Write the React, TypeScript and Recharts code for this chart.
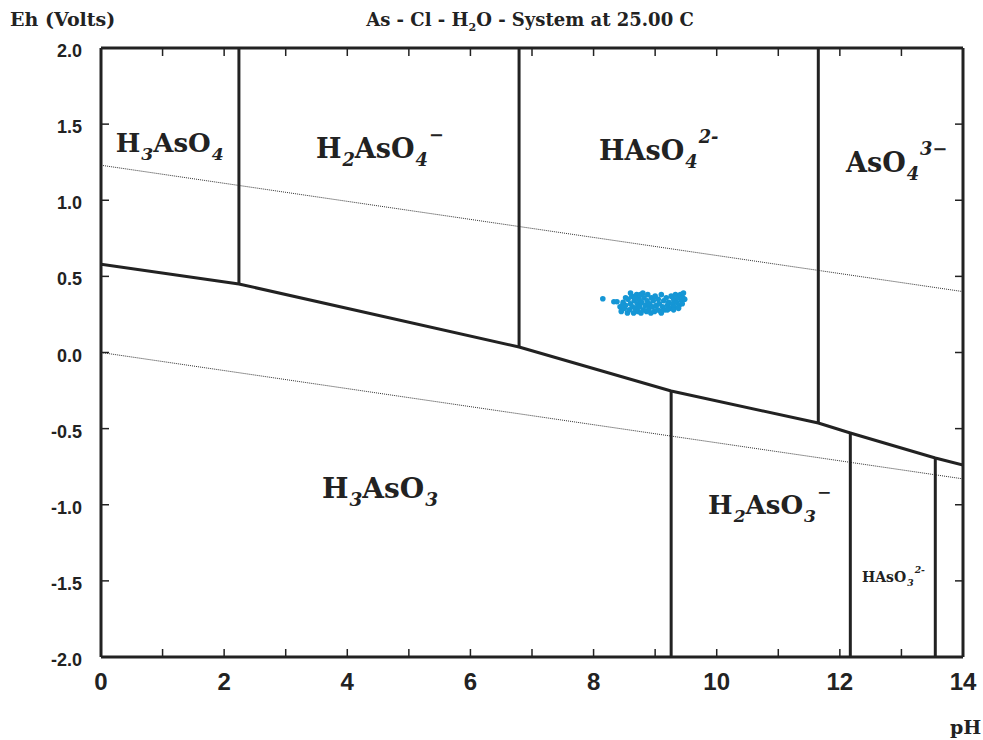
import React from 'react';
import { ComposedChart, Line, Scatter, XAxis, YAxis, ReferenceDot } from 'recharts';

// axis ticks
const phTicks = [0, 1, 2, 3, 4, 5, 6, 7, 8, 9, 10, 11, 12, 13, 14];
const phLabels = [0, 2, 4, 6, 8, 10, 12, 14];
const ehTicks = [-2, -1.5, -1, -0.5, 0, 0.5, 1, 1.5, 2];

// As(V) / As(III) boundary
const redoxBoundary = [
  { ph: 0, eh: 0.58 },
  { ph: 2.24, eh: 0.45 },
  { ph: 6.79, eh: 0.036 },
  { ph: 9.26, eh: -0.253 },
  { ph: 11.65, eh: -0.463 },
  { ph: 12.17, eh: -0.529 },
  { ph: 13.55, eh: -0.693 },
  { ph: 14, eh: -0.739 },
];

// acid / base boundaries
const pKa1 = [{ ph: 2.24, eh: 0.45 }, { ph: 2.24, eh: 2 }];
const pKa2 = [{ ph: 6.79, eh: 0.036 }, { ph: 6.79, eh: 2 }];
const pKa3 = [{ ph: 11.65, eh: -0.463 }, { ph: 11.65, eh: 2 }];
const pKa4 = [{ ph: 9.26, eh: -0.253 }, { ph: 9.26, eh: -2 }];
const pKa5 = [{ ph: 12.17, eh: -0.529 }, { ph: 12.17, eh: -2 }];
const pKa6 = [{ ph: 13.55, eh: -0.693 }, { ph: 13.55, eh: -2 }];

// water stability limits
const waterUpper = [{ ph: 0, eh: 1.23 }, { ph: 14, eh: 0.4 }];
const waterLower = [{ ph: 0, eh: 0 }, { ph: 14, eh: -0.83 }];

// measured samples
const samplePh = [
  8.15, 8.33, 8.38, 8.43, 8.45, 8.48, 8.5, 8.52, 8.55, 8.56, 8.58, 8.6, 8.62, 8.63, 8.65, 8.66,
  8.68, 8.7, 8.71, 8.72, 8.74, 8.75, 8.77, 8.78, 8.8, 8.81, 8.82, 8.84, 8.86, 8.87, 8.88, 8.9,
  8.91, 8.93, 8.94, 8.96, 8.97, 8.99, 9.0, 9.02, 9.04, 9.05, 9.07, 9.09, 9.1, 9.12, 9.14, 9.16,
  9.18, 9.2, 9.22, 9.24, 9.26, 9.28, 9.3, 9.31, 9.33, 9.35, 9.37, 9.39, 9.41, 9.43, 9.45, 9.46, 9.44,
  8.6, 8.68, 8.76, 8.52, 9.3, 9.38, 9.2, 9.1, 8.47, 9.48,
];
const sampleEh = [
  0.353, 0.333, 0.333, 0.3, 0.27, 0.33, 0.29, 0.31, 0.26, 0.35, 0.28, 0.32, 0.37, 0.3, 0.26, 0.34,
  0.29, 0.38, 0.32, 0.27, 0.35, 0.3, 0.26, 0.33, 0.39, 0.28, 0.36, 0.31, 0.27, 0.34, 0.38, 0.29,
  0.32, 0.26, 0.36, 0.3, 0.34, 0.27, 0.37, 0.31, 0.28, 0.35, 0.32, 0.27, 0.38, 0.3, 0.34, 0.28,
  0.36, 0.31, 0.33, 0.29, 0.37, 0.32, 0.35, 0.3, 0.38, 0.33, 0.36, 0.31, 0.38, 0.34, 0.36, 0.39, 0.32,
  0.39, 0.36, 0.38, 0.36, 0.28, 0.29, 0.28, 0.26, 0.31, 0.35,
];
const samples = samplePh.map((ph, i) => ({ ph, eh: sampleEh[i] }));

// species field labels
type Part = { t: string; k?: 'sub' | 'sup' };
const speciesParts: Part[][] = [
  [{ t: 'H' }, { t: '3', k: 'sub' }, { t: 'AsO' }, { t: '4', k: 'sub' }],
  [{ t: 'H' }, { t: '2', k: 'sub' }, { t: 'AsO' }, { t: '4', k: 'sub' }, { t: '\u2212', k: 'sup' }],
  [{ t: 'HAsO' }, { t: '4', k: 'sub' }, { t: '2-', k: 'sup' }],
  [{ t: 'AsO' }, { t: '4', k: 'sub' }, { t: '3\u2212', k: 'sup' }],
  [{ t: 'H' }, { t: '3', k: 'sub' }, { t: 'AsO' }, { t: '3', k: 'sub' }],
  [{ t: 'H' }, { t: '2', k: 'sub' }, { t: 'AsO' }, { t: '3', k: 'sub' }, { t: '\u2212', k: 'sup' }],
  [{ t: 'HAsO' }, { t: '3', k: 'sub' }, { t: '2-', k: 'sup' }],
];
const speciesPh = [0.24, 3.49, 8.09, 12.1, 3.59, 9.86, 12.36];
const speciesEh = [1.317, 1.277, 1.264, 1.185, -0.956, -1.06, -1.507];
const speciesSize = [26, 27, 27, 27, 28, 26, 14];

const ink = '#222';
const serif = "'DejaVu Serif', 'Liberation Serif', serif";
const sans = "'Liberation Sans', Arial, sans-serif";

const SpeciesText = ({ x, y, parts, size }: { x: number; y: number; parts: Part[]; size: number }) => {
  let cur = 0;
  return (
    <text x={x} y={y} fontFamily={serif} fontWeight="bold" fontSize={size} fill={ink}>
      {parts.map((p, i) => {
        const target = p.k === 'sub' ? size * 0.3 : p.k === 'sup' ? -size * 0.62 : 0;
        const dy = target - cur;
        cur = target;
        return (
          <tspan
            key={i}
            dy={dy}
            dx={p.k ? 1 : 0}
            fontSize={p.k ? size * 0.66 : size}
            fontStyle={p.k && /\d/.test(p.t[0]) ? 'italic' : 'normal'}
          >
            {p.t}
          </tspan>
        );
      })}
    </text>
  );
};

const BottomTick = (props: any) => {
  const { x, y, payload } = props;
  return (
    <g>
      <line x1={x} y1={y} x2={x} y2={y - 8} stroke={ink} strokeWidth={1.5} />
      {phLabels.includes(payload.value) && (
        <text x={x} y={y + 33} textAnchor="middle" fontFamily={sans} fontWeight="bold" fontSize={24} fill={ink}>
          {payload.value}
        </text>
      )}
    </g>
  );
};

const TopTick = (props: any) => {
  const { x, y } = props;
  return <line x1={x} y1={y} x2={x} y2={y + 8} stroke={ink} strokeWidth={1.5} />;
};

const LeftTick = (props: any) => {
  const { x, y, payload } = props;
  return (
    <g>
      <line x1={x} y1={y} x2={x + 8} y2={y} stroke={ink} strokeWidth={1.5} />
      <text x={x - 19} y={y + 9} textAnchor="end" fontFamily={sans} fontWeight="bold" fontSize={18} fill={ink}>
        {Number(payload.value).toFixed(1)}
      </text>
    </g>
  );
};

const RightTick = (props: any) => {
  const { x, y } = props;
  return <line x1={x} y1={y} x2={x - 8} y2={y} stroke={ink} strokeWidth={1.5} />;
};

const boundaryLines = [redoxBoundary, pKa1, pKa2, pKa3, pKa4, pKa5, pKa6];
const waterLines = [waterUpper, waterLower];

const App: React.FC = () => {
  return (
    <div style={{ position: 'absolute', left: 0, top: 0, width: 983, height: 740, background: '#fff' }}>
      <div style={{ position: 'absolute', left: 10, top: 8, fontFamily: serif, fontWeight: 'bold', fontSize: 19, color: ink }}>
        Eh (Volts)
      </div>
      <div style={{ position: 'absolute', left: 330, top: 9, width: 400, textAlign: 'center', fontFamily: serif, fontWeight: 'bold', fontSize: 18, color: ink, whiteSpace: 'nowrap' }}>
        As - Cl - H<sub style={{ fontSize: 11 }}>2</sub>O - System at 25.00 C
      </div>
      <div style={{ position: 'absolute', left: 950, top: 716, fontFamily: serif, fontWeight: 'bold', fontSize: 19, color: ink }}>
        pH
      </div>
      <ComposedChart width={983} height={740} margin={{ top: 18, right: 0, bottom: 0, left: 0 }}>
        <XAxis
          xAxisId="bottom"
          type="number"
          dataKey="ph"
          domain={[0, 14]}
          ticks={phTicks}
          allowDataOverflow
          height={83}
          tickSize={0}
          tickMargin={0}
          tickLine={false}
          tick={<BottomTick />}
          axisLine={{ stroke: ink, strokeWidth: 3 }}
        />
        <XAxis
          xAxisId="top"
          orientation="top"
          type="number"
          dataKey="ph"
          domain={[0, 14]}
          ticks={phTicks}
          allowDataOverflow
          height={30}
          tickSize={0}
          tickMargin={0}
          tickLine={false}
          tick={<TopTick />}
          axisLine={{ stroke: ink, strokeWidth: 3 }}
        />
        <YAxis
          yAxisId="left"
          type="number"
          dataKey="eh"
          domain={[-2, 2]}
          ticks={ehTicks}
          allowDataOverflow
          width={101}
          tickSize={0}
          tickMargin={0}
          tickLine={false}
          tick={<LeftTick />}
          axisLine={{ stroke: ink, strokeWidth: 3 }}
        />
        <YAxis
          yAxisId="right"
          orientation="right"
          type="number"
          dataKey="eh"
          domain={[-2, 2]}
          ticks={ehTicks}
          allowDataOverflow
          width={20}
          tickSize={0}
          tickMargin={0}
          tickLine={false}
          tick={<RightTick />}
          axisLine={{ stroke: ink, strokeWidth: 3 }}
        />
        {waterLines.map((d, i) => (
          <Line
            key={`w${i}`}
            xAxisId="bottom"
            yAxisId="left"
            data={d}
            dataKey="eh"
            type="linear"
            stroke="#333"
            strokeWidth={1}
            strokeDasharray="1 1"
            dot={false}
            activeDot={false}
            isAnimationActive={false}
          />
        ))}
        {boundaryLines.map((d, i) => (
          <Line
            key={`b${i}`}
            xAxisId="bottom"
            yAxisId="left"
            data={d}
            dataKey="eh"
            type="linear"
            stroke={ink}
            strokeWidth={3}
            dot={false}
            activeDot={false}
            isAnimationActive={false}
          />
        ))}
        <Scatter
          xAxisId="bottom"
          yAxisId="left"
          data={samples}
          dataKey="eh"
          fill="#1596d5"
          isAnimationActive={false}
          shape={(p: any) => <circle cx={p.cx} cy={p.cy} r={2.8} fill="#1596d5" />}
        />
        {speciesParts.map((parts, i) => (
          <ReferenceDot
            key={`s${i}`}
            xAxisId="bottom"
            yAxisId="left"
            x={speciesPh[i]}
            y={speciesEh[i]}
            r={1}
            fill="none"
            stroke="none"
            label={{
              content: (lp: any) => {
                const vb = lp.viewBox || {};
                const cx = (vb.x ?? 0) + (vb.width ?? 0) / 2;
                const cy = (vb.y ?? 0) + (vb.height ?? 0) / 2;
                return <SpeciesText x={cx} y={cy} parts={parts} size={speciesSize[i]} />;
              },
            }}
          />
        ))}
      </ComposedChart>
    </div>
  );
};

export default App;
